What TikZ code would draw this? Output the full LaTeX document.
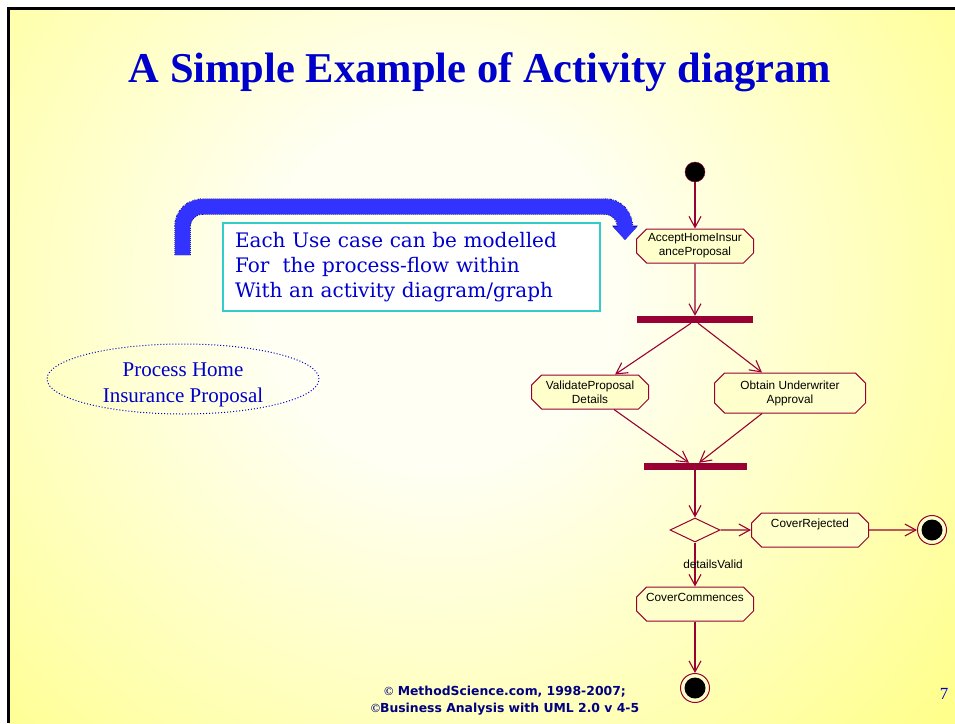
\documentclass[tikz,border=0pt]{standalone}
\usepackage{fontspec}
\setmainfont{Liberation Serif}
\newfontfamily\umlfont{Liberation Sans}
\newfontfamily\notefont{DejaVu Serif}
\newfontfamily\footfont{DejaVu Sans}
\usetikzlibrary{positioning, shapes.geometric, shapes.misc, arrows.meta}
\definecolor{adBlue}{RGB}{0, 0, 204}
\definecolor{adNavy}{RGB}{0, 0, 128}
\definecolor{adRed}{RGB}{153, 0, 51}
\definecolor{adFill}{RGB}{255, 255, 204}
\definecolor{adYellow}{RGB}{255, 255, 102}
\definecolor{adGlow}{RGB}{255, 255, 244}
\definecolor{adArrow}{RGB}{51, 51, 255}
\definecolor{adDots}{RGB}{20, 20, 170}
\definecolor{adCyan}{RGB}{51, 204, 204}
\pgfdeclareradialshading{slideglow}{\pgfpoint{0bp}{0bp}}{color(0bp)=(adGlow); color(4bp)=(adGlow); color(19bp)=(adYellow); color(50bp)=(adYellow)}
\tikzset{
    base/.style={
        font=\umlfont\fontsize{11.8}{14}\selectfont,
        align=center
    },
    activity/.style={
        base,
        chamfered rectangle,
        chamfered rectangle xsep=7pt,
        draw=adRed,
        line width=1pt,
        fill=adFill,
        inner sep=1pt,
        minimum width=117pt,
        minimum height=34pt
    },
    forkbar/.style={
        rectangle,
        fill=adRed,
        inner sep=0pt,
        minimum height=7pt
    },
    decision/.style={
        diamond,
        draw=adRed,
        line width=1pt,
        fill=adFill,
        inner sep=0pt,
        minimum width=50pt,
        minimum height=24pt
    },
    initial/.style={
        circle,
        draw=adRed,
        fill=black,
        inner sep=0pt,
        minimum size=20pt
    },
    final/.style={
        circle,
        draw=adRed,
        line width=1pt,
        fill=adFill,
        inner sep=0pt,
        minimum size=29pt,
        path picture={\fill[black] (path picture bounding box.center) circle (10.5pt);}
    },
    flow/.style={
        -{Straight Barb[length=11pt, width=12pt]},
        line width=1.1pt,
        color=adRed
    },
    guard/.style={
        base,
        text=black,
        inner sep=1pt
    },
    usecase/.style={
        ellipse,
        draw=adBlue,
        dotted,
        line width=1pt,
        minimum width=272pt,
        minimum height=70pt
    },
    casetext/.style={
        text=adBlue,
        font=\fontsize{21}{26}\selectfont,
        align=center
    },
    notebox/.style={
        rectangle,
        draw=adCyan,
        line width=2pt,
        fill=white,
        text=adBlue,
        font=\notefont\fontsize{20}{25}\selectfont,
        align=left,
        text width=353pt,
        inner xsep=12pt,
        minimum height=88pt
    },
    hook/.style={
        preaction={draw=adDots, line width=16.5pt, dash pattern=on 1pt off 1pt,
                   -{Triangle[width=25pt, length=14.5pt]}},
        -{Triangle[width=23pt, length=13pt]},
        line width=15pt,
        color=adArrow,
        rounded corners=20pt
    }
}

\begin{document}
\begin{tikzpicture}[x=1pt, y=-1pt]
  % Slide background
  \useasboundingbox (0,0) rectangle (955,723);
  \fill[white] (0,0) rectangle (955,723);
  \begin{scope}
    \clip (8.5,8.5) rectangle (955,723);
    \fill[adYellow] (8.5,8.5) rectangle (955,723);
    \shade[shading=slideglow] (440,290) circle (1100pt);
  \end{scope}
  \draw[line width=3pt] (8.5,723) -- (8.5,8.5) -- (955,8.5);

  % Title
  \node[text=adBlue, font=\bfseries\fontsize{42.5}{50}\selectfont, anchor=base] (title) at (480,82) {A Simple Example of Activity diagram};

  % Use case and note
  \node[usecase, label={[casetext, yshift=-6pt]center:{Process Home\\Insurance Proposal}}] (usecase) at (183,379) {};
  \coordinate (hookFrom) at (182.5,255);
  \coordinate (hookTo) at (625,240);
  \draw[hook] (hookFrom) |- (625,206.5) -- (hookTo);
  \node[notebox] (note) at (411.5,267) {Each Use case can be modelled\\For\ \ the process-flow within\\With an activity diagram/graph};

  % Activity graph
  \node[initial] (start) at (695,172) {};
  \node[activity] (accept) at (695,246) {AcceptHomeInsur\\anceProposal};
  \node[forkbar, minimum width=116pt] (fork) at (695,319.5) {};
  \node[activity] (validate) at (590,392) {ValidateProposal\\Details};
  \node[activity, minimum width=151pt, minimum height=40pt] (obtain) at (790,393) {Obtain Underwriter\\Approval};
  \node[forkbar, minimum width=103pt] (join) at (695,466.5) {};
  \node[decision] (choice) at (695,530) {};
  \node[activity] (rejected) at (810,530) {CoverRejected\\~};
  \node[final] (endRejected) at (932,530) {};
  \node[activity] (commences) at (695,604) {CoverCommences\\~};
  \node[final] (endCommences) at (695,688) {};

  \draw[flow] (start) -- (accept);
  \draw[flow] (accept) -- (fork);
  \draw[flow] ([xshift=-4pt]fork.south) -- ([xshift=25pt]validate.north);
  \draw[flow] ([xshift=3pt]fork.south) -- ([xshift=-28pt]obtain.north);
  \draw[flow] ([xshift=24pt]validate.south) -- ([xshift=-6pt]join.north);
  \draw[flow] ([xshift=-28pt]obtain.south) -- ([xshift=4pt]join.north);
  \draw[flow] (join) -- (choice);
  \draw[flow] (choice) -- (rejected);
  \draw[flow] (rejected) -- (endRejected);
  \draw[flow] (choice) -- node[guard, pos=0.5, xshift=18pt] {detailsValid} (commences);
  \draw[flow] (commences) -- (endCommences);

  % Footer
  \node[text=adNavy, font=\footfont\bfseries\fontsize{12.4}{17}\selectfont, align=center] (credits) at (505,701) {{\rmfamily ©} MethodScience.com, 1998-2007;\\{\rmfamily ©}Business Analysis with UML 2.0 v 4-5};
  \node[text=adBlue, font=\fontsize{17}{20}\selectfont, anchor=base] (page) at (944,699) {7};
\end{tikzpicture}
\end{document}
